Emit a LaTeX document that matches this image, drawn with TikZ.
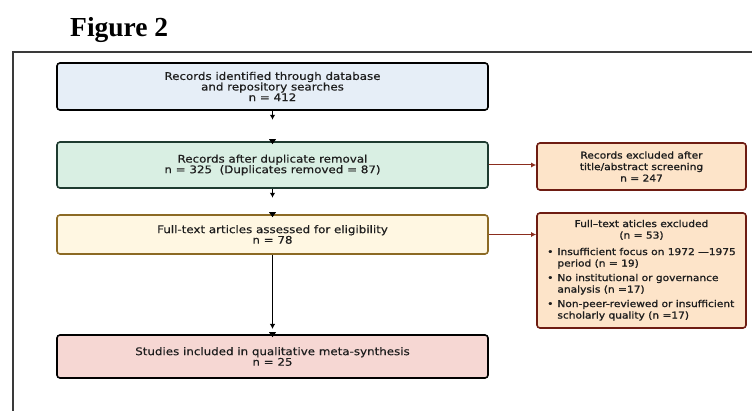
\documentclass[tikz,border=0pt]{standalone}
\usepackage{fontspec}
\setmainfont{DejaVu Sans}[FakeStretch=1.13, FakeBold=0.4]
\newfontfamily\sidefont{DejaVu Sans}[FakeStretch=1.13, FakeBold=1.3]
\newfontfamily\titlefont{Liberation Serif}
\usetikzlibrary{arrows.meta}
\definecolor{framegray}{HTML}{3A3A3A}
\definecolor{bluefill}{HTML}{E6EEF7}
\definecolor{greenfill}{HTML}{D9EFE3}
\definecolor{greenline}{HTML}{1E3B30}
\definecolor{yellowfill}{HTML}{FFF7E2}
\definecolor{yellowline}{HTML}{8C6A24}
\definecolor{pinkfill}{HTML}{F6D7D3}
\definecolor{peachfill}{HTML}{FDE4C9}
\definecolor{redline}{HTML}{6E1C12}
\definecolor{redarrow}{HTML}{8B2D1E}
\definecolor{textcol}{HTML}{1E1E1E}
\tikzset{
  mainbox/.style={draw, line width=1.6pt, rounded corners=3pt, minimum width=431, align=center,
    text=textcol, font=\fontsize{10.5}{10.6}\selectfont, inner sep=2pt},
  sidebox/.style={draw=redline, fill=peachfill, line width=1.6pt, rounded corners=3pt, minimum width=209,
    align=center, text=textcol, font=\sidefont\fontsize{9.4}{11.5}\selectfont, inner sep=2pt},
  blackarr/.style={line width=1.2pt, -{Latex[length=5pt,width=5.5pt]}},
  redarr/.style={draw=redarrow, line width=1pt, -{Latex[length=5pt,width=5pt]}},
  frameline/.style={draw=framegray, line width=1.4pt}
}
\begin{document}
\begin{tikzpicture}[x=1pt,y=-1pt]
\useasboundingbox (0,0) rectangle (752,411);
\fill[white] (0,0) rectangle (752,411);
\node[anchor=base west, inner sep=0, font=\titlefont\bfseries\fontsize{27.5}{30}\selectfont] (title) at (70,37) {Figure 2};
\draw[frameline] (13,440) -- (13,52) -- (770,52);

\node[mainbox, fill=bluefill, draw=black, minimum height=47] (b1) at (272.5,86.5)
  {Records identified through database\\and repository searches\\n = 412};
\node[mainbox, fill=greenfill, draw=greenline, minimum height=46] (b2) at (272.5,165)
  {Records after duplicate removal\\n = 325 \ (Duplicates removed = 87)};
\node[mainbox, fill=yellowfill, draw=yellowline, minimum height=39] (b3) at (272.5,234.5)
  {Full-text articles assessed for eligibility\\n = 78};
\node[mainbox, fill=pinkfill, draw=black, minimum height=43] (b4) at (272.5,356.5)
  {Studies included in qualitative meta-synthesis\\n = 25};

\node[sidebox, minimum height=47] (r1) at (641.5,166.5)
  {Records excluded after\\title/abstract screening\\n = 247};
\node[sidebox, minimum height=115] (r2) at (641.5,270.5)
  {\begin{tabular}{@{}c@{}}Full–text aticles excluded\\(n = 53)\end{tabular}\\[4pt]
   \begin{tabular}{@{}l@{\hspace{4pt}}l@{}}
   • & Insufficient focus on 1972 —1975\\
     & period (n = 19)\\[3pt]
   • & No institutional or governance\\
     & analysis (n =17)\\[3pt]
   • & Non-peer-reviewed or insufficient\\
     & scholarly quality (n =17)
   \end{tabular}};

\coordinate (s1) at ([shift={(0,9)}]b1.south);
\coordinate (s2) at ([shift={(0,9)}]b2.south);
\coordinate (s3) at (272.5,329);
\draw[blackarr] (b1.south) -- (s1);
\draw[blackarr] (b2.south) -- (s2);
\draw[blackarr] (b3.south) -- (s3);
\fill ([shift={(-3.5,-2)}]b2.north) -- ++(7,0) -- ++(-3.5,5) -- cycle;
\fill ([shift={(-3.5,-2)}]b3.north) -- ++(7,0) -- ++(-3.5,5) -- cycle;
\fill ([shift={(-3.5,-2)}]b4.north) -- ++(7,0) -- ++(-3.5,5) -- cycle;

\draw[redarr] (b2.east) -- (r1.west |- b2.east);
\draw[redarr] (b3.east) -- (r2.west |- b3.east);
\end{tikzpicture}
\end{document}
